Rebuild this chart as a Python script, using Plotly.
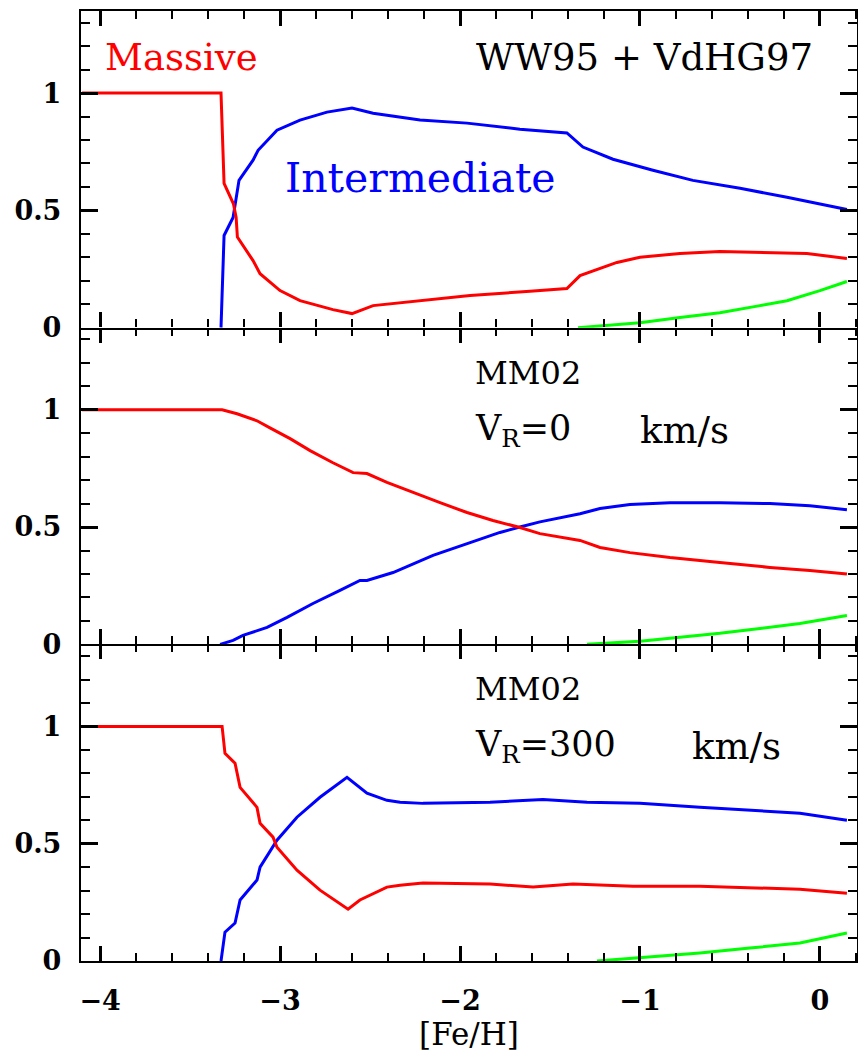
import plotly.graph_objects as go
from plotly.subplots import make_subplots

# ---- WW95 + VdHG97 ----
top_massive_x = [-4.1, -3.328, -3.311, -3.259, -3.244, -3.237, -3.15, -3.111, -3.0, -2.889,
                 -2.706, -2.6, -2.483, -2.222, -1.944, -1.611, -1.406, -1.333, -1.128, -1.0,
                 -0.778, -0.556, -0.294, -0.072, 0.15]
top_massive_y = [1.0, 1.0, 0.615, 0.528, 0.47, 0.386, 0.286, 0.23, 0.158, 0.115,
                 0.077, 0.06, 0.094, 0.115, 0.137, 0.155, 0.167, 0.222, 0.278, 0.30,
                 0.316, 0.325, 0.32, 0.316, 0.295]
top_inter_x = [-3.328, -3.311, -3.261, -3.241, -3.228, -3.15, -3.122, -3.017, -2.889, -2.739,
               -2.6, -2.483, -2.222, -1.961, -1.667, -1.406, -1.317, -1.15, -0.928, -0.706,
               -0.444, -0.183, 0.15]
top_inter_y = [0.0, 0.393, 0.47, 0.572, 0.628, 0.714, 0.756, 0.842, 0.885, 0.919,
               0.936, 0.914, 0.885, 0.872, 0.846, 0.83, 0.77, 0.718, 0.671, 0.628,
               0.594, 0.556, 0.504]
top_low_x = [-1.344, -1.0, -0.778, -0.556, -0.333, -0.183, 0.0, 0.15]
top_low_y = [0.0, 0.021, 0.043, 0.064, 0.094, 0.115, 0.158, 0.197]

# ---- MM02, V_R = 0 km/s ----
mid_massive_x = [-4.1, -3.322, -3.239, -3.128, -3.056, -2.944, -2.833, -2.706, -2.594, -2.517,
                 -2.406, -2.261, -2.111, -1.961, -1.817, -1.667, -1.556, -1.333, -1.222, -1.056,
                 -0.833, -0.556, -0.278, -0.056, 0.15]
mid_massive_y = [1.0, 1.0, 0.983, 0.953, 0.923, 0.877, 0.826, 0.774, 0.732, 0.728,
                 0.69, 0.647, 0.604, 0.562, 0.528, 0.498, 0.472, 0.443, 0.413, 0.391,
                 0.37, 0.349, 0.328, 0.315, 0.30]
mid_inter_x = [-3.333, -3.261, -3.206, -3.072, -2.961, -2.817, -2.667, -2.556, -2.517, -2.372,
               -2.15, -1.961, -1.778, -1.667, -1.556, -1.333, -1.222, -1.056, -0.833, -0.556,
               -0.278, -0.056, 0.15]
mid_inter_y = [0.0, 0.017, 0.038, 0.072, 0.115, 0.174, 0.23, 0.272, 0.272, 0.306,
               0.379, 0.43, 0.477, 0.50, 0.522, 0.557, 0.579, 0.596, 0.604, 0.604,
               0.60, 0.591, 0.574]
mid_low_x = [-1.294, -1.0, -0.778, -0.556, -0.333, -0.111, 0.15]
mid_low_y = [0.0, 0.013, 0.03, 0.047, 0.068, 0.089, 0.123]

# ---- MM02, V_R = 300 km/s ----
bot_massive_x = [-4.1, -3.322, -3.306, -3.25, -3.222, -3.128, -3.111, -3.039, -3.017, -2.906,
                 -2.778, -2.622, -2.556, -2.406, -2.333, -2.206, -1.833, -1.594, -1.372, -1.039,
                 -0.667, -0.389, -0.111, 0.15]
bot_massive_y = [1.0, 1.0, 0.885, 0.843, 0.74, 0.655, 0.587, 0.528, 0.485, 0.387,
                 0.302, 0.221, 0.26, 0.315, 0.323, 0.332, 0.328, 0.315, 0.328, 0.319,
                 0.319, 0.311, 0.306, 0.289]
bot_inter_x = [-3.328, -3.322, -3.306, -3.25, -3.222, -3.128, -3.111, -3.017, -2.906, -2.778,
               -2.628, -2.517, -2.406, -2.333, -2.206, -1.833, -1.539, -1.294, -1.0, -0.667,
               -0.389, -0.111, 0.15]
bot_inter_y = [0.0, 0.034, 0.123, 0.162, 0.26, 0.345, 0.40, 0.515, 0.613, 0.698,
               0.783, 0.715, 0.685, 0.677, 0.672, 0.677, 0.689, 0.677, 0.672, 0.655,
               0.643, 0.63, 0.60]
bot_low_x = [-1.239, -1.0, -0.667, -0.389, -0.111, 0.15]
bot_low_y = [0.0, 0.013, 0.034, 0.055, 0.077, 0.119]

x_tick_vals = [-4, -3, -2, -1, 0]
y_tick_vals = [0, 0.5, 1]
y_tick_text = ["0", "0.5", "1"]

X_RANGE = [-4.106, 0.206]
Y_RANGE = [0, 1.35]

RED, BLUE, GREEN = "#ff0000", "#0000ff", "#00ff00"
SERIF = "DejaVu Serif"
LW = 2.4

panels = [
    (top_massive_x, top_massive_y, top_inter_x, top_inter_y, top_low_x, top_low_y),
    (mid_massive_x, mid_massive_y, mid_inter_x, mid_inter_y, mid_low_x, mid_low_y),
    (bot_massive_x, bot_massive_y, bot_inter_x, bot_inter_y, bot_low_x, bot_low_y),
]

fig = make_subplots(rows=3, cols=1, shared_xaxes=True, vertical_spacing=0)

for row, (mx, my, ix, iy, lx, ly) in enumerate(panels, start=1):
    for xs, ys, col in ((lx, ly, GREEN), (ix, iy, BLUE), (mx, my, RED)):
        fig.add_trace(go.Scatter(x=xs, y=ys, mode="lines",
                                 line=dict(color=col, width=3),
                                 showlegend=False, hoverinfo="skip"),
                      row=row, col=1)

tick_font = dict(family=SERIF, size=27, color="black", weight="bold")
x_minor = dict(tick0=-4, dtick=0.2, ticks="inside", ticklen=8, tickwidth=2.2,
               tickcolor="black", showgrid=False)
y_minor = dict(tick0=0, dtick=0.1, ticks="inside", ticklen=9, tickwidth=2.2,
               tickcolor="black", showgrid=False)
axis_common = dict(showline=True, linecolor="black", linewidth=LW, mirror=False,
                   ticks="inside", tickcolor="black", tickwidth=2.5,
                   showgrid=False, zeroline=False)

for row in (1, 2, 3):
    fig.update_xaxes(range=X_RANGE, tickvals=x_tick_vals, ticklen=15, minor=x_minor,
                     showticklabels=(row == 3), tickfont=tick_font, ticklabelstandoff=14,
                     row=row, col=1, **axis_common)
    fig.update_yaxes(range=Y_RANGE, tickvals=y_tick_vals, ticktext=y_tick_text, ticklen=17,
                     minor=y_minor, tickfont=tick_font, ticklabelstandoff=12,
                     row=row, col=1, **axis_common)

fig.update_xaxes(title=dict(text="[Fe/H]", font=dict(family=SERIF, size=31, color="black"),
                            standoff=4), row=3, col=1)

# Mirrored tick marks along the top and right edge of every panel
for i, (xa, ya) in enumerate((("x", "y"), ("x2", "y2"), ("x3", "y3"))):
    n = 4 + i
    fig.add_trace(go.Scatter(x=[None], y=[None], xaxis=f"x{n}", yaxis=f"y{n}",
                             showlegend=False, hoverinfo="skip"))
    fig.update_layout({
        f"xaxis{n}": dict(overlaying=xa, anchor=f"y{n}", side="top", range=X_RANGE,
                          tickvals=x_tick_vals, ticklen=15, minor=x_minor,
                          showticklabels=False, **dict(axis_common, showline=(i == 0))),
        f"yaxis{n}": dict(overlaying=ya, anchor=f"x{n}", side="right", range=Y_RANGE,
                          tickvals=y_tick_vals, ticklen=17, minor=y_minor,
                          showticklabels=False, **axis_common),
    })


def note(text, x, y, row, size, color="black"):
    ref = "" if row == 1 else str(row)
    fig.add_annotation(text=text, x=x, y=y, xref="x" + ref, yref="y" + ref,
                       xanchor="left", yanchor="middle", showarrow=False,
                       font=dict(family=SERIF, size=size, color=color))


note("Massive", -3.983, 1.15, 1, 37, RED)
note("WW95 + VdHG97", -1.922, 1.15, 1, 37)
note("Intermediate", -2.983, 0.64, 1, 41, BLUE)
note("MM02", -1.928, 1.157, 2, 32)
note("V<sub>R</sub>=0", -1.928, 0.91, 2, 35)
note("km/s", -1.01, 0.91, 2, 37)
note("MM02", -1.928, 1.16, 3, 32)
note("V<sub>R</sub>=300", -1.928, 0.915, 3, 35)
note("km/s", -0.722, 0.915, 3, 37)

fig.update_layout(width=858, height=1052, margin=dict(l=81, r=1, t=11, b=91),
                  plot_bgcolor="white", paper_bgcolor="white")

fig.write_html("out.html")
